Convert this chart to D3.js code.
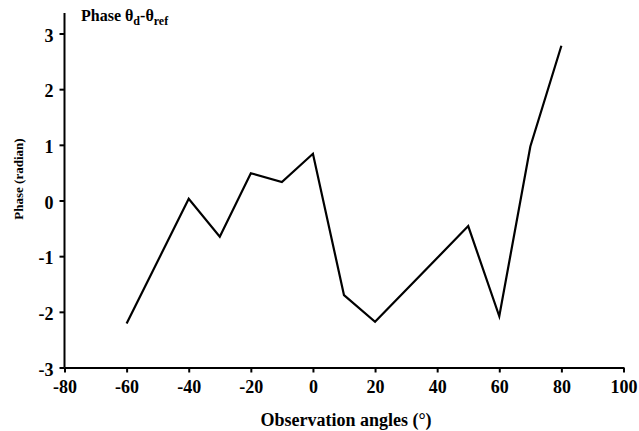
<!DOCTYPE html>
<html>
<head>
<meta charset="utf-8">
<script src="https://cdn.jsdelivr.net/npm/d3@7"></script>
<style>
	body { margin: 0; background: #fff; }
	svg text { font-family: "Times New Roman", "Liberation Serif", "DejaVu Serif", serif; font-weight: bold; fill: #000; }
</style>
</head>
<body>
<div class="canvas"></div>
<script>
// observation angles (deg) and measured phase (radian)
const angles = [-60, -40, -30, -20, -10, 0, 10, 20, 50, 60, 70, 80];
const phases = [-2.21, 0.03, -0.65, 0.49, 0.33, 0.84, -1.70, -2.18, -0.46, -2.08, 0.97, 2.78];

const xTicks = [-80, -60, -40, -20, 0, 20, 40, 60, 80, 100];
const yTicks = [-3, -2, -1, 0, 1, 2, 3];

const width = 639;
const height = 431;
const serif = '"Times New Roman", "Liberation Serif", "DejaVu Serif", serif';

const svg = d3.select('.canvas')
	.append('svg')
	.attr('width', width)
	.attr('height', height);

// plot box
const box = { left: 64.5, right: 623.5, top: 33.5, bottom: 367.5 };

const x = d3.scaleLinear()
	.domain([-80, 100])
	.range([box.left, box.right]);

const y = d3.scaleLinear()
	.domain([-3, 3])
	.range([box.bottom, box.top]);

// axes (plain hyphen for negatives, like the original)
const xAxis = d3.axisBottom(x)
	.tickValues(xTicks)
	.tickSizeInner(5)
	.tickSizeOuter(0)
	.tickPadding(8)
	.tickFormat(d => String(d));

const yAxis = d3.axisLeft(y)
	.tickValues(yTicks)
	.tickSizeInner(5)
	.tickSizeOuter(0)
	.tickPadding(6)
	.tickFormat(d => String(d));

const xAxisGroup = svg.append('g')
	.attr('transform', `translate(0, ${box.bottom})`)
	.call(xAxis);

const yAxisGroup = svg.append('g')
	.attr('transform', `translate(${box.left}, 0)`)
	.call(yAxis);

// y axis line runs a bit above the top tick
yAxisGroup.select('.domain').remove();
yAxisGroup.append('line')
	.attr('x1', 0).attr('x2', 0)
	.attr('y1', box.bottom).attr('y2', 13)
	.attr('stroke', '#000')
	.attr('stroke-width', 2);

[xAxisGroup, yAxisGroup].forEach(g => {
	g.attr('font-family', serif).attr('font-size', 18);
	g.select('.domain').attr('stroke', '#000').attr('stroke-width', 2);
	g.selectAll('.tick line').attr('stroke', '#000').attr('stroke-width', 2);
	g.selectAll('.tick text')
		.attr('font-weight', 'bold')
		.attr('fill', '#000');
});
yAxisGroup.selectAll('.tick text').attr('dy', '0.42em');

// line
const data = angles.map((a, i) => ({ angle: a, phase: phases[i] }));

const line = d3.line()
	.x(d => x(d.angle))
	.y(d => y(d.phase));

svg.append('path')
	.datum(data)
	.attr('d', line)
	.attr('fill', 'none')
	.attr('stroke', '#000')
	.attr('stroke-width', 2.2)
	.attr('stroke-linejoin', 'miter');

// axis titles
svg.append('text')
	.attr('x', 346)
	.attr('y', 426)
	.attr('text-anchor', 'middle')
	.attr('font-size', 18)
	.text('Observation angles (°)');

svg.append('text')
	.attr('transform', 'translate(23, 179) rotate(-90)')
	.attr('text-anchor', 'middle')
	.attr('font-size', 13)
	.text('Phase (radian)');

// panel title with subscripts
const title = svg.append('text')
	.attr('x', 81)
	.attr('y', 21)
	.attr('font-size', 16);
title.append('tspan').text('Phase θ');
title.append('tspan').attr('font-size', 12).attr('dy', 4).text('d');
title.append('tspan').attr('dy', -4).text('-θ');
title.append('tspan').attr('font-size', 12).attr('dy', 4).text('ref');
</script>
</body>
</html>
